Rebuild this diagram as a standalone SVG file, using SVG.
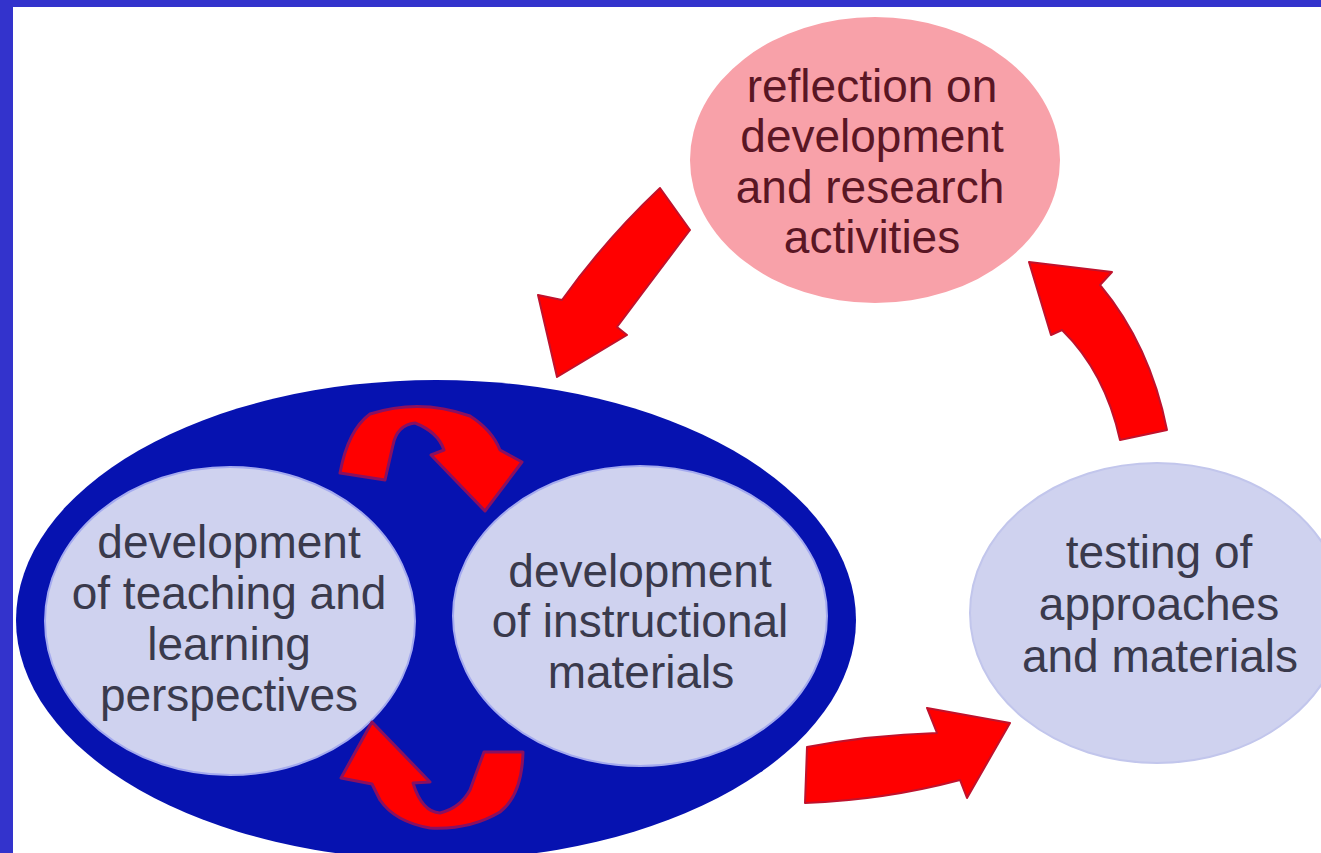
<svg xmlns="http://www.w3.org/2000/svg" width="1321" height="853" viewBox="0 0 1321 853">
  <style>
    .lbl { font-family: "Liberation Sans", Arial, sans-serif; font-size: 46px; text-anchor: middle; }
    .dark { fill: #3a3a4c; }
    .maroon { fill: #5a1624; }
    .lav { fill: #cfd2ef; stroke: #a4aaef; stroke-width: 2; }
    .lav-soft { fill: #cfd2ef; stroke: #c2c6ec; stroke-width: 2; }
    .arrow { fill: #ff0000; stroke: #c0122c; stroke-width: 2; stroke-linejoin: round; }
    .arrow-in { fill: #ff0000; stroke: #8a1060; stroke-width: 3; stroke-linejoin: round; }
  </style>

  <!-- page background and frame -->
  <rect x="0" y="0" width="1321" height="853" fill="#ffffff"/>
  <rect x="0" y="0" width="13" height="853" fill="#3333cc"/>
  <rect x="0" y="0" width="1321" height="7" fill="#3333cc"/>

  <!-- development cluster: two activities inside a blue ring -->
  <g id="development-cluster">
    <ellipse cx="436" cy="620" rx="420" ry="240" fill="#0612b0"/>
  </g>

  <g id="teaching-learning">
    <ellipse class="lav" cx="230" cy="621" rx="185" ry="154"/>
    <text class="lbl dark" x="229" y="558">development</text>
    <text class="lbl dark" x="229" y="609">of teaching and</text>
    <text class="lbl dark" x="229" y="660">learning</text>
    <text class="lbl dark" x="229" y="711">perspectives</text>
  </g>

  <g id="instructional-materials">
    <ellipse class="lav" cx="640" cy="616" rx="187" ry="150"/>
    <text class="lbl dark" x="640" y="587">development</text>
    <text class="lbl dark" x="640" y="637">of instructional</text>
    <text class="lbl dark" x="641" y="688">materials</text>
  </g>

  <g id="reflection">
    <ellipse cx="875" cy="160" rx="185" ry="143" fill="#f8a1a9"/>
    <text class="lbl maroon" x="872" y="102">reflection on</text>
    <text class="lbl maroon" x="872" y="152">development</text>
    <text class="lbl maroon" x="870" y="203">and research</text>
    <text class="lbl maroon" x="872" y="253">activities</text>
  </g>

  <g id="testing">
    <ellipse class="lav-soft" cx="1157" cy="613" rx="187" ry="150"/>
    <text class="lbl dark" x="1159" y="568">testing of</text>
    <text class="lbl dark" x="1159" y="620">approaches</text>
    <text class="lbl dark" x="1160" y="672">and materials</text>
  </g>

  <!-- connectors: block arrows of the cycle -->
  <g id="connectors">
    <!-- reflection -> development cluster -->
    <path class="arrow" d="M660,188 L690,230 Q652,280 617,327 L627,335 L557,377 L538,295 L562,300 Q605,240 660,188 Z"/>
    <!-- testing -> reflection -->
    <path class="arrow" d="M1120,440 L1167,430 Q1150,345 1100,285 L1112,272 L1029,262 L1051,335 L1062,330 Q1105,372 1120,440 Z"/>
    <!-- development cluster -> testing -->
    <path class="arrow" d="M805,803 L807,747 Q870,735 937,733 L927,708 L1010,723 L967,798 L960,780 Q885,800 805,803 Z"/>
    <!-- inner loop: upper arc -->
    <path class="arrow-in" d="M340,473 Q348,430 370,414 Q420,398 470,416 Q492,430 500,450 L522,462 L485,511 L431,455 L444,450 Q438,432 415,423 Q397,425 393,445 L385,480 Z"/>
    <!-- inner loop: lower arc -->
    <path class="arrow-in" d="M372,722 L430,782 L413,783 Q422,812 440,813 Q460,808 470,790 L484,752 L523,752 Q522,795 500,812 Q470,830 430,828 Q395,822 380,800 L372,784 L341,778 Z"/>
  </g>
</svg>
